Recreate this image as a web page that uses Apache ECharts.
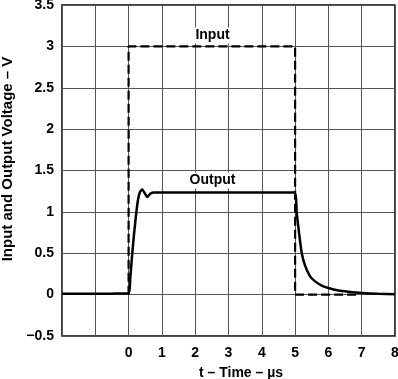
<!DOCTYPE html>
<html><head><meta charset="utf-8">
<script src="https://cdn.jsdelivr.net/npm/echarts@6/dist/echarts.min.js"></script>
<style>html,body{margin:0;padding:0;background:#fff}#c{width:398px;height:379px}</style>
</head><body><div id="c"></div>
<script>
const inputT = [0, 0, 5, 5, 6.95];
const inputV = [0, 3, 3, 0, 0];
const outputT = [-2, -0.5, 0, 0.05, 0.1, 0.16, 0.22, 0.28, 0.34, 0.41, 0.48, 0.56, 0.65, 0.76, 1, 2, 3, 4, 4.97, 5.05, 5.12, 5.2, 5.3, 5.45, 5.6, 5.8, 6.0, 6.3, 6.6, 7.0, 7.5, 8];
const outputV = [0.01, 0.012, 0.015, 0.2, 0.45, 0.72, 0.95, 1.14, 1.24, 1.27, 1.23, 1.18, 1.22, 1.235, 1.235, 1.235, 1.235, 1.235, 1.235, 0.98, 0.74, 0.5, 0.35, 0.22, 0.16, 0.11, 0.08, 0.05, 0.035, 0.02, 0.01, 0.005];
const labels = [{name: 'Input', t: 2.52, v: 3.13}, {name: 'Output', t: 2.52, v: 1.38}];

const chart = echarts.init(document.getElementById('c'));
const font = 'Liberation Sans, Arial, sans-serif';
chart.setOption({
  animation: false,
  grid: {left: 62, right: 3, top: 5, bottom: 43, show: true, borderColor: '#000', borderWidth: 1.5,
    containLabel: false, outerBoundsMode: 'none'},
  xAxis: {
    type: 'value', min: -2, max: 8, interval: 1,
    name: 't – Time – µs', nameLocation: 'middle', nameGap: 30,
    nameTextStyle: {fontFamily: font, fontWeight: 'bold', fontSize: 14, color: '#000', padding: [0, 0, 0, 25]},
    axisLine: {show: false}, axisTick: {show: false},
    axisLabel: {fontFamily: font, fontWeight: 'bold', fontSize: 14, color: '#000', margin: 10,
      formatter: v => v < 0 ? '' : String(v)},
    splitLine: {lineStyle: {color: '#555', width: 1}}
  },
  yAxis: {
    type: 'value', min: -0.5, max: 3.5, interval: 0.5,
    name: 'Input and Output Voltage – V', nameLocation: 'middle', nameGap: 47,
    nameTextStyle: {fontFamily: font, fontWeight: 'bold', fontSize: 15, color: '#000', padding: [0, 0, 0, 23]},
    axisLine: {show: false}, axisTick: {show: false},
    axisLabel: {fontFamily: font, fontWeight: 'bold', fontSize: 14, color: '#000', margin: 8,
      formatter: v => v < 0 ? '−' + Math.abs(v) : String(v)},
    splitLine: {lineStyle: {color: '#555', width: 1}}
  },
  series: [
    {
      type: 'line', data: inputT.map((t, i) => [t, inputV[i]]), symbol: 'none',
      lineStyle: {color: '#000', width: 2.2, type: [9, 4]}, z: 3
    },
    {
      type: 'line', data: outputT.map((t, i) => [t, outputV[i]]), symbol: 'none', smooth: 0.2,
      lineStyle: {color: '#000', width: 2.5}, z: 4,
      markPoint: {
        symbol: 'rect', symbolSize: 1, itemStyle: {color: 'rgba(0,0,0,0)'},
        label: {show: true, position: 'inside', formatter: p => p.name, fontFamily: font, fontWeight: 'bold',
          fontSize: 14, color: '#000', backgroundColor: '#fff', padding: [1, 2]},
        data: labels.map(l => ({name: l.name, coord: [l.t, l.v]}))
      }
    }
  ]
});
</script></body></html>
